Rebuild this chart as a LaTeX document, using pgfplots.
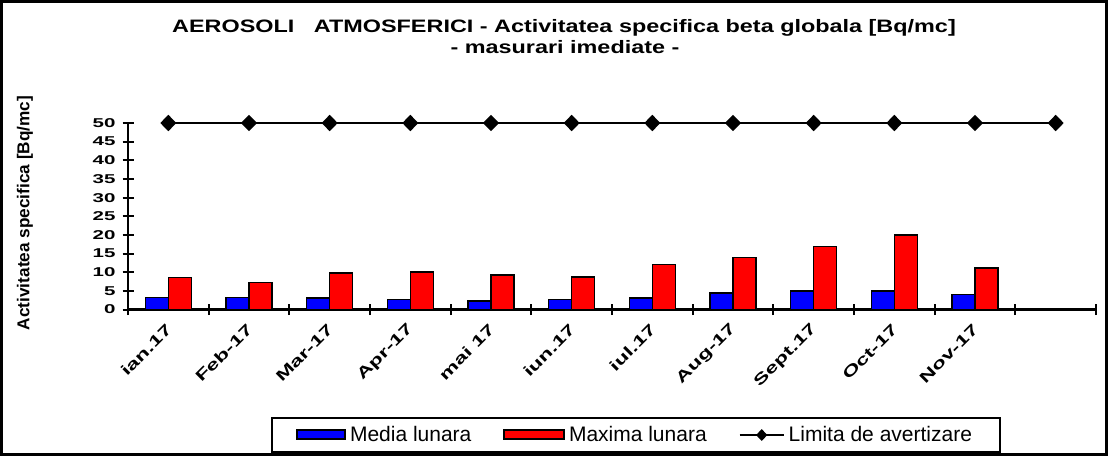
\documentclass[border=0pt]{standalone}
\usepackage{fontspec}
\setmainfont{Liberation Sans}
\newfontfamily\widefont{Liberation Sans}[FakeStretch=1.6]
\newfontfamily\titlefont{Liberation Sans}[FakeStretch=1.3]
\newfontfamily\xlabfont{Liberation Sans}[FakeStretch=1.5]
\usepackage{pgfplots}
\pgfplotsset{compat=1.18}

\pgfplotsset{
  bar legend a/.style={legend image code/.code={\draw[##1] (0pt,-2pt) rectangle (24pt,2.5pt);}},
  bar legend b/.style={legend image code/.code={\draw[##1] (0pt,-2pt) rectangle (30pt,2.5pt);}},
  line legend d/.style={legend image code/.code={\draw[##1, mark size=2.2pt, mark repeat=2, mark phase=2]
    plot coordinates {(0pt,0pt) (11pt,0pt) (22pt,0pt)};}},
}

\begin{document}
\begin{tikzpicture}[x=1pt,y=1pt]
\useasboundingbox (0,0) rectangle (554,228);
\draw[line width=1.2pt] (0.8,0.8) rectangle (553.2,227.2);
\node[font=\titlefont\bfseries\fontsize{9}{11}\selectfont] at (282,214)
  {AEROSOLI\ \ \ ATMOSFERICI - Activitatea specifica beta globala [Bq/mc]};
\node[font=\titlefont\bfseries\fontsize{9}{11}\selectfont] at (282.5,204.5)
  {- masurari imediate -};
\node[rotate=90, font=\bfseries\fontsize{8.6}{10}\selectfont] at (12.5,121.5)
  {Activitatea specifica [Bq/mc]};

\begin{axis}[
  at={(64pt,73.25pt)}, anchor=south west,
  scale only axis, width=484pt, height=93.25pt,
  xmin=0.5, xmax=12.5, ymin=0, ymax=50,
  axis lines=left, axis line style={-, line width=1.2pt},
  clip=false,
  ytick={0,5,...,50},
  xtick={0.5,1.5,...,12.5}, xticklabels={},
  extra x ticks={1,2,...,12},
  extra x tick labels={ian.17,Feb-17,Mar-17,Apr-17,mai 17,iun.17,iul.17,Aug-17,Sept.17,Oct-17,Nov-17,{}},
  extra x tick style={tick style={draw=none},
    xticklabel style={rotate=45, anchor=east, xshift=-0.5pt, yshift=-4.5pt,
      font=\xlabfont\bfseries\fontsize{7.6}{9}\selectfont}},
  tick align=center, major tick length=5.5pt,
  tick style={line width=1pt, black},
  /pgf/number format/assume math mode=true,
  yticklabel style={font=\widefont\bfseries\fontsize{6.4}{7}\selectfont},
  legend columns=3,
  legend style={at={(0.525,-0.673)}, anchor=center, draw=black, line width=1pt,
    font=\fontsize{10.5}{12}\selectfont, inner xsep=12pt, inner ysep=2pt,
    /tikz/every even column/.append style={column sep=14pt}},
]
\addplot[ybar, bar width=0.285, bar shift=-0.1425, fill=blue, draw=black, line width=0.8pt, bar legend a]
  coordinates {(1,3.2) (2,3.2) (3,3.1) (4,2.7) (5,2.3) (6,2.7) (7,3.1) (8,4.5) (9,4.9) (10,4.9) (11,4.0)};
\addlegendentry{Media lunara}
\addplot[ybar, bar width=0.285, bar shift=0.1425, fill=red, draw=black, line width=0.8pt, bar legend b]
  coordinates {(1,8.6) (2,7.2) (3,9.8) (4,10.1) (5,9.3) (6,8.7) (7,12.1) (8,13.9) (9,16.9) (10,20.0) (11,11.1)};
\addlegendentry{Maxima lunara}
\addplot[black, line width=1pt, mark=diamond*, mark size=3.4pt, mark options={xscale=1.3}, line legend d]
  coordinates {(1,50) (2,50) (3,50) (4,50) (5,50) (6,50) (7,50) (8,50) (9,50) (10,50) (11,50) (12,50)};
\addlegendentry{Limita de avertizare}
\end{axis}
\end{tikzpicture}
\end{document}
